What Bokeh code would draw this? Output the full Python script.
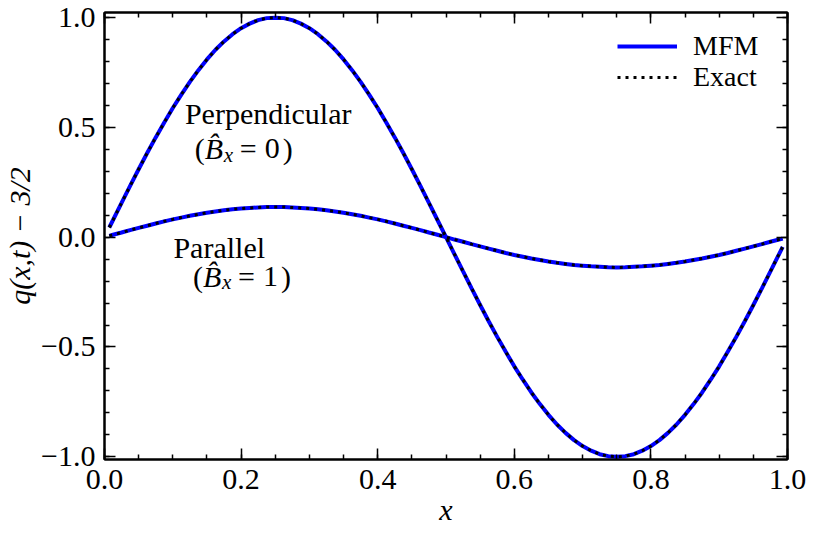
from bokeh.plotting import figure
from bokeh.models import (Range1d, SingleIntervalTicker, LinearAxis, Label, Legend,
                          LegendItem, CustomJSTickFormatter, PrintfTickFormatter)
from bokeh.embed import file_html
from bokeh.resources import INLINE

FONT = "Liberation Serif"

# sample positions
x_vals = [0.007, 0.0125, 0.025, 0.0375, 0.05, 0.0625, 0.075, 0.0875, 0.1, 0.1125,
          0.125, 0.1375, 0.15, 0.1625, 0.175, 0.1875, 0.2, 0.2125, 0.225, 0.2375,
          0.25, 0.2625, 0.275, 0.2875, 0.3, 0.3125, 0.325, 0.3375, 0.35, 0.3625,
          0.375, 0.3875, 0.4, 0.4125, 0.425, 0.4375, 0.45, 0.4625, 0.475, 0.4875,
          0.5, 0.5125, 0.525, 0.5375, 0.55, 0.5625, 0.575, 0.5875, 0.6, 0.6125,
          0.625, 0.6375, 0.65, 0.6625, 0.675, 0.6875, 0.7, 0.7125, 0.725, 0.7375,
          0.75, 0.7625, 0.775, 0.7875, 0.8, 0.8125, 0.825, 0.8375, 0.85, 0.8625,
          0.875, 0.8875, 0.9, 0.9125, 0.925, 0.9375, 0.95, 0.9625, 0.975, 0.9875, 0.993]

# perpendicular wave (B_x = 0)
perp_mfm = [0.044, 0.078, 0.156, 0.233, 0.309, 0.383, 0.454, 0.522, 0.588, 0.649,
            0.707, 0.760, 0.809, 0.853, 0.891, 0.924, 0.951, 0.972, 0.988, 0.997,
            0.999, 0.997, 0.988, 0.972, 0.951, 0.924, 0.891, 0.853, 0.809, 0.760,
            0.707, 0.649, 0.588, 0.522, 0.454, 0.383, 0.309, 0.233, 0.156, 0.078,
            0.000, -0.078, -0.156, -0.233, -0.309, -0.383, -0.454, -0.522, -0.588, -0.649,
            -0.707, -0.760, -0.809, -0.853, -0.891, -0.924, -0.951, -0.972, -0.988, -0.997,
            -1.000, -0.997, -0.988, -0.972, -0.951, -0.924, -0.891, -0.853, -0.809, -0.760,
            -0.707, -0.649, -0.588, -0.522, -0.454, -0.383, -0.309, -0.233, -0.156, -0.078, -0.044]
perp_exact = list(perp_mfm)

# parallel wave (B_x = 1)
par_mfm = [0.006, 0.011, 0.021, 0.032, 0.042, 0.052, 0.062, 0.072, 0.081, 0.089,
           0.097, 0.104, 0.111, 0.117, 0.122, 0.127, 0.130, 0.133, 0.135, 0.137,
           0.137, 0.137, 0.135, 0.133, 0.130, 0.127, 0.122, 0.117, 0.111, 0.104,
           0.097, 0.089, 0.081, 0.072, 0.062, 0.052, 0.042, 0.032, 0.021, 0.011,
           0.000, -0.011, -0.021, -0.032, -0.042, -0.052, -0.062, -0.072, -0.081, -0.089,
           -0.097, -0.104, -0.111, -0.117, -0.122, -0.127, -0.130, -0.133, -0.135, -0.137,
           -0.138, -0.137, -0.135, -0.133, -0.130, -0.127, -0.122, -0.117, -0.111, -0.104,
           -0.097, -0.089, -0.081, -0.072, -0.062, -0.052, -0.042, -0.032, -0.021, -0.011, -0.006]
par_exact = list(par_mfm)

p = figure(width=807, height=528, output_backend="svg", toolbar_location=None,
           x_range=Range1d(0, 1), y_range=Range1d(-1.0122, 1.0226),
           min_border_left=103, min_border_right=20, min_border_top=12, min_border_bottom=68,
           background_fill_color="white", border_fill_color="white")
p.grid.visible = False
p.outline_line_color = "black"
p.outline_line_width = 2

xt = SingleIntervalTicker(interval=0.2, num_minor_ticks=4)
yt = SingleIntervalTicker(interval=0.5, num_minor_ticks=5)

p.add_layout(LinearAxis(), "above")
p.add_layout(LinearAxis(), "right")

def style(ax, ticker, labels):
    ax.ticker = ticker
    ax.axis_line_width = 2
    ax.axis_line_color = "black"
    ax.major_tick_in = 11
    ax.major_tick_out = 0
    ax.minor_tick_in = 5
    ax.minor_tick_out = 0
    ax.major_tick_line_width = 1.5
    ax.minor_tick_line_width = 1.5
    ax.major_tick_line_color = "black"
    ax.minor_tick_line_color = "black"
    ax.major_label_text_font = FONT
    ax.major_label_text_color = "black"
    ax.major_label_text_font_size = "30px"
    ax.axis_label_text_font = FONT
    ax.axis_label_text_font_size = "30px"
    ax.axis_label_text_font_style = "italic"
    ax.axis_label_text_color = "black"
    if not labels:
        ax.formatter = CustomJSTickFormatter(code="return '';")
        ax.major_label_standoff = 0
        ax.axis_label = None

style(p.below[0], xt, True)
style(p.left[0], yt, True)
style(p.above[0], xt, False)
style(p.right[0], yt, False)

p.below[0].formatter = PrintfTickFormatter(format="%.1f")
p.left[0].formatter = CustomJSTickFormatter(code="return tick.toFixed(1).replace('-', '\\u2212');")
p.below[0].major_label_standoff = 10
p.left[0].major_label_standoff = 9

p.below[0].axis_label = "x"
p.below[0].axis_label_standoff = 1
p.left[0].axis_label = "q(x,t) \u2212 3/2"
p.left[0].axis_label_standoff = 2

r1 = p.line(x_vals, perp_mfm, line_color="blue", line_width=4)
r2 = p.line(x_vals, par_mfm, line_color="blue", line_width=4)
r3 = p.line(x_vals, perp_exact, line_color="black", line_width=3, line_dash="3 5")
r4 = p.line(x_vals, par_exact, line_color="black", line_width=3, line_dash="3 5")

def make_legend(label, rend, loc):
    lg = Legend(items=[LegendItem(label=label, renderers=[rend])],
                location=loc, border_line_color=None, background_fill_alpha=0,
                label_text_font=FONT, label_text_font_size="28px", label_text_color="black",
                glyph_width=60, glyph_height=20, label_standoff=16, spacing=0,
                padding=0, margin=0)
    p.add_layout(lg)

make_legend("MFM", r1, (513, 397))
make_legend("Exact", r3, (513, 366))

def txt(x, y, s, dx=0, dy=0, size="30px", style="normal"):
    p.add_layout(Label(x=x, y=y, text=s, x_offset=dx, y_offset=dy,
                       text_font=FONT, text_font_size=size, text_font_style=style,
                       text_baseline="alphabetic", text_align="left", text_color="black"))

# curve annotations
txt(0.1177, 0.564, "Perpendicular")
for (lx, ly, val) in [(0.132, 0.402, "0"), (0.1297, -0.179, "1")]:
    txt(lx, ly, "(")
    txt(lx, ly, "B\u0302", dx=10, style="italic")
    txt(lx, ly, "x", dx=29, dy=-6, size="21px", style="italic")
    txt(lx, ly, "=", dx=45)
    txt(lx, ly, val, dx=70)
    txt(lx, ly, ")", dx=88)
txt(0.1009, -0.047, "Parallel")

open("out.html", "w").write(file_html(p, INLINE))
